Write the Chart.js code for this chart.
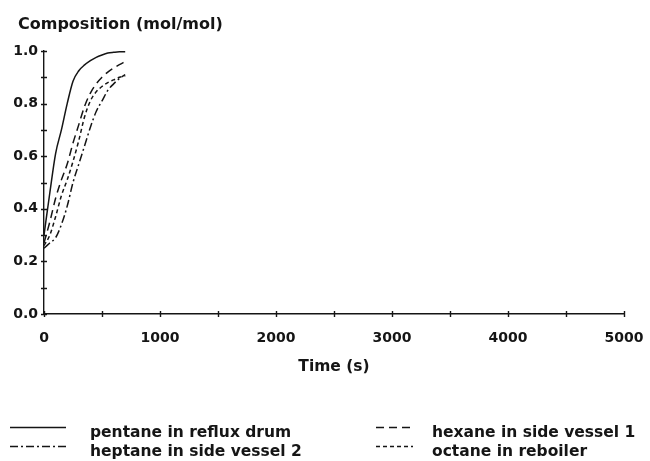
<!DOCTYPE html>
<html>
<head>
<meta charset="utf-8">
<script src="https://cdn.jsdelivr.net/npm/chart.js@4.4.1/dist/chart.umd.min.js"></script>
<style>
  html, body { margin: 0; padding: 0; background: #fff; }
  #wrap { width: 650px; height: 461px; position: relative; }
</style>
</head>
<body>
<div id="wrap"><canvas id="c" width="650" height="461"></canvas></div>
<script>
// Simulation time (s)
const timeS = [0, 50, 100, 150, 200, 250, 300, 350, 400, 450, 500, 550, 600, 650, 700];

// Mole fractions of each component in its vessel
const pentaneRefluxDrum = [0.30, 0.46, 0.61, 0.70, 0.80, 0.885, 0.925, 0.947, 0.963, 0.976, 0.985, 0.992, 0.995, 0.997, 0.997];
const hexaneSideVessel1 = [0.27, 0.35, 0.44, 0.51, 0.57, 0.65, 0.72, 0.79, 0.84, 0.875, 0.90, 0.92, 0.935, 0.948, 0.96];
const heptaneSideVessel2 = [0.25, 0.27, 0.29, 0.34, 0.41, 0.50, 0.57, 0.64, 0.71, 0.77, 0.81, 0.85, 0.875, 0.895, 0.91];
const octaneReboiler = [0.26, 0.30, 0.37, 0.45, 0.51, 0.58, 0.66, 0.75, 0.81, 0.845, 0.865, 0.88, 0.89, 0.90, 0.905];

const seriesLabels = ['pentane in reflux drum', 'hexane in side vessel 1', 'heptane in side vessel 2', 'octane in reboiler'];

const xTitle = 'Time (s)';
const yTitle = 'Composition (mol/mol)';

const INK = '#151515';
const FONT = '"DejaVu Sans", sans-serif';

function pts(ys) { return timeS.map((t, i) => ({ x: t, y: ys[i] })); }

const dashes = [[], [8, 5], [8, 3, 2, 3], [4, 3]];
const seriesData = [pentaneRefluxDrum, hexaneSideVessel1, heptaneSideVessel2, octaneReboiler];

const datasets = seriesData.map((d, i) => ({
  label: seriesLabels[i],
  data: pts(d),
  borderColor: INK,
  borderWidth: 1.5,
  borderDash: dashes[i],
  pointRadius: 0,
  fill: false,
  cubicInterpolationMode: 'monotone'
}));

// Tick marks that cross the axis lines, plus titles and a two-column legend
const decor = {
  id: 'decor',
  afterDraw(chart) {
    const ctx = chart.ctx;
    const xs = chart.scales.x, ys = chart.scales.y;
    const area = chart.chartArea;
    ctx.save();
    ctx.strokeStyle = INK;
    ctx.lineWidth = 1.4;
    ctx.setLineDash([]);
    ctx.beginPath();
    xs.ticks.forEach(t => {
      const px = Math.round(xs.getPixelForValue(t.value)) + 0.5;
      ctx.moveTo(px, area.bottom - 3);
      ctx.lineTo(px, area.bottom + 3);
    });
    ys.ticks.forEach(t => {
      const py = Math.round(ys.getPixelForValue(t.value)) + 0.5;
      ctx.moveTo(area.left - 3, py);
      ctx.lineTo(area.left + 3, py);
    });
    ctx.stroke();

    // axis titles
    ctx.fillStyle = INK;
    ctx.font = 'bold 16px ' + FONT;
    ctx.textAlign = 'left';
    ctx.textBaseline = 'alphabetic';
    ctx.fillText(yTitle, 18, 29);
    ctx.font = 'bold 15.5px ' + FONT;
    ctx.textAlign = 'center';
    ctx.textBaseline = 'middle';
    ctx.fillText(xTitle, (area.left + area.right) / 2, 367);

    // legend
    const slots = [
      { x0: 10, x1: 66, tx: 90, y: 433 },
      { x0: 376, x1: 413, tx: 432, y: 433 },
      { x0: 10, x1: 66, tx: 90, y: 452 },
      { x0: 376, x1: 413, tx: 432, y: 452 }
    ];
    ctx.font = 'bold 15.5px ' + FONT;
    ctx.textAlign = 'left';
    chart.data.datasets.forEach((ds, k) => {
      const s = slots[k];
      ctx.beginPath();
      ctx.setLineDash(ds.borderDash);
      ctx.lineWidth = 1.4;
      ctx.moveTo(s.x0, s.y - 5.5);
      ctx.lineTo(s.x1, s.y - 5.5);
      ctx.stroke();
      ctx.setLineDash([]);
      ctx.fillText(ds.label, s.tx, s.y);
    });
    ctx.restore();
  }
};

new Chart(document.getElementById('c'), {
  type: 'line',
  data: { datasets },
  options: {
    responsive: false,
    animation: false,
    devicePixelRatio: 1,
    layout: { padding: { top: 51, right: 26, left: 0, bottom: 0 } },
    plugins: { legend: { display: false }, tooltip: { enabled: false } },
    scales: {
      x: {
        type: 'linear',
        min: 0, max: 5000,
        border: { display: true, color: INK, width: 1.4 },
        grid: { display: false, drawTicks: false },
        afterFit(s) { s.height = 147; s.paddingLeft = 0; s.paddingRight = 0; },
        ticks: {
          stepSize: 500,
          autoSkip: false,
          maxRotation: 0,
          padding: 16,
          color: INK,
          font: { family: FONT, size: 14, weight: 'bold' },
          callback: v => (v % 1000 === 0 ? String(v) : '')
        }
      },
      y: {
        min: 0, max: 1,
        border: { display: true, color: INK, width: 1.4 },
        grid: { display: false, drawTicks: false },
        afterFit(s) { s.width = 44; s.paddingTop = 0; s.paddingBottom = 0; },
        ticks: {
          stepSize: 0.1,
          autoSkip: false,
          padding: 6,
          color: INK,
          font: { family: FONT, size: 14, weight: 'bold' },
          callback: v => (Math.round(v * 10) % 2 === 0 ? v.toFixed(1) : '')
        }
      }
    }
  },
  plugins: [decor]
});
</script>
</body>
</html>
